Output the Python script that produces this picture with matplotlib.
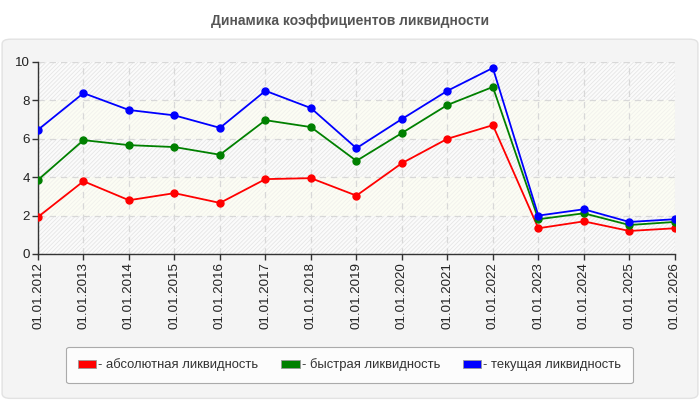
import matplotlib
matplotlib.use("Agg")
import matplotlib.pyplot as plt
from matplotlib.patches import FancyBboxPatch, Patch
import numpy as np

plt.rcParams["font.family"] = ["Liberation Sans", "DejaVu Sans"]
plt.rcParams["hatch.linewidth"] = 0.6

dates = ["01.01.2012", "01.01.2013", "01.01.2014", "01.01.2015", "01.01.2016",
         "01.01.2017", "01.01.2018", "01.01.2019", "01.01.2020", "01.01.2021",
         "01.01.2022", "01.01.2023", "01.01.2024", "01.01.2025", "01.01.2026"]
absolute = [1.93, 3.79, 2.80, 3.17, 2.66, 3.90, 3.95, 3.04, 4.73, 6.00, 6.71, 1.34, 1.70, 1.20, 1.34]
quick = [3.86, 5.93, 5.67, 5.57, 5.17, 6.97, 6.61, 4.85, 6.30, 7.76, 8.70, 1.81, 2.12, 1.51, 1.67]
current = [6.47, 8.38, 7.50, 7.22, 6.57, 8.50, 7.60, 5.51, 7.03, 8.50, 9.69, 2.00, 2.33, 1.67, 1.81]
series_names = ["- абсолютная ликвидность", "- быстрая ликвидность", "- текущая ликвидность"]
series_colors = ["#ff0000", "#008000", "#0000ff"]
y_ticks = [0, 2, 4, 6, 8, 10]

fig = plt.figure(figsize=(7, 4), dpi=100)
fig.patch.set_facecolor("white")

# grey rounded panel under the chart
panel = FancyBboxPatch((0.003, 0.004), 0.994, 0.898,
                       boxstyle="round,pad=0,rounding_size=0.012",
                       transform=fig.transFigure, facecolor="#f4f4f4",
                       edgecolor="#e2e2e2", linewidth=1.0, zorder=-5)
fig.patches.append(panel)

fig.text(0.5, 0.948, "Динамика коэффициентов ликвидности", ha="center", va="center",
         fontsize=10, fontweight="bold", color="#555555")

ax = fig.add_axes([0.0543, 0.365, 0.9097, 0.48])
ax.set_zorder(2)
ax.set_facecolor("#fbfbfb")
x = np.arange(len(dates))
ax.set_xlim(0, len(dates) - 1)
ax.set_ylim(0, 10)

# alternating bands
for i, (lo, hi) in enumerate(zip(y_ticks[:-1], y_ticks[1:])):
    if i % 2 == 0:
        ax.axhspan(lo, hi, facecolor="#fbfbfb", edgecolor="#e6e6e6", hatch="////////",
                   linewidth=0, zorder=0)
    else:
        ax.axhspan(lo, hi, facecolor="#fcfdf4", edgecolor="#f1f1ec", hatch="////////",
                   linewidth=0, zorder=0)

ax.grid(True, color="#d8d8d8", linestyle=(0, (5, 4)), linewidth=0.9, zorder=1)

for vals, color in zip([absolute, quick, current], series_colors):
    ax.plot(x, vals, color=color, linewidth=1.3, marker="o", markersize=5, zorder=3)

ax.set_xticks(x)
ax.set_xticklabels(dates, rotation=90, fontsize=9.6, color="#222222")
ax.set_yticks(y_ticks)
ax.set_yticklabels([str(t) for t in y_ticks], fontsize=9.6, color="#222222")
ax.tick_params(axis="both", length=4, width=1, color="#333333", pad=2)
for side in ["top", "right"]:
    ax.spines[side].set_visible(False)
for side in ["left", "bottom"]:
    ax.spines[side].set_color("#333333")
    ax.spines[side].set_linewidth(1.0)

handles = [Patch(facecolor=c, edgecolor="#999999", linewidth=0.6) for c in series_colors]
leg = fig.legend(handles, series_names, loc="center", bbox_to_anchor=(0.4995, 0.0875),
                 ncol=3, fontsize=9.4, frameon=True, fancybox=True, framealpha=1,
                 facecolor="#fcfcfc", edgecolor="#aaaaaa", handlelength=1.4,
                 handleheight=0.65, handletextpad=0.15, columnspacing=1.75,
                 borderpad=0.9, borderaxespad=0)
leg.get_frame().set_linewidth(0.8)
for t in leg.get_texts():
    t.set_color("#333333")

fig.savefig("out.png", dpi=100)
